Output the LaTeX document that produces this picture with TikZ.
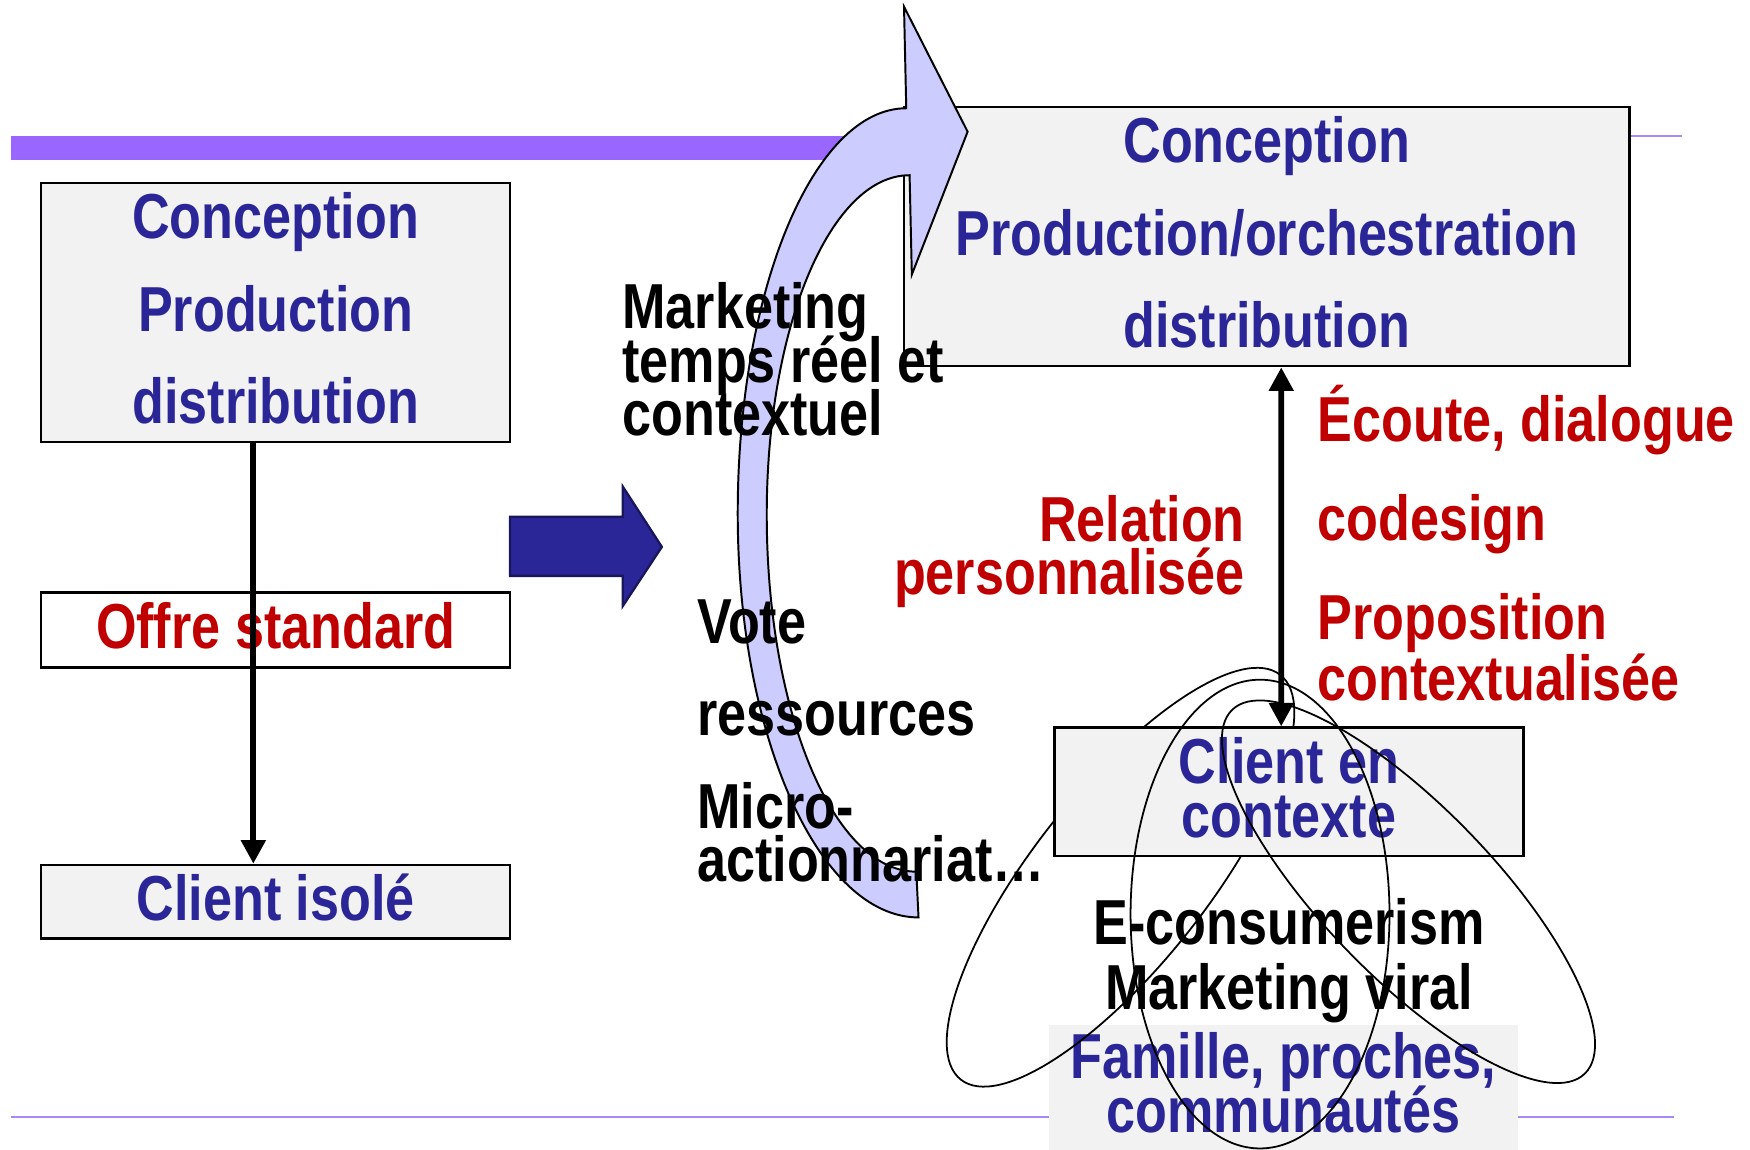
\documentclass[tikz,border=0pt]{standalone}
\usepackage{fontspec}
\setmainfont{Liberation Sans}[FakeStretch=0.82]
\usetikzlibrary{arrows.meta}
\definecolor{bleu}{RGB}{42,38,152}
\definecolor{rouge}{RGB}{192,0,0}
\definecolor{gris}{RGB}{242,242,242}
\definecolor{barre}{RGB}{153,102,255}
\definecolor{trait}{RGB}{170,135,250}
\definecolor{lavande}{RGB}{204,204,255}
\newcommand\lignes[1]{\bfseries\fontsize{16.2}{#1}\selectfont\lineskiplimit=-30pt}
\tikzstyle{cadre} = [draw,line width=0.6pt,fill=gris,inner sep=0pt,align=center,text=bleu,text depth=0.08cm,font=\lignes{23.6}]
\tikzstyle{mots} = [inner sep=0pt,font=\lignes{13.6}]
\tikzstyle{fleche} = [line width=1.5pt,-{Triangle[length=6pt,width=6pt]}]
\tikzstyle{fleches} = [line width=1.5pt,{Triangle[length=6pt,width=6pt]}-{Triangle[length=6pt,width=6pt]}]
\tikzstyle{boucle} = [line width=0.45pt]

\begin{document}
\begin{tikzpicture}[x=0.01cm,y=-0.01cm]
\useasboundingbox (0,0) rectangle (1568,1030);

\fill[barre] (10,122) rectangle (800,143);
\draw[trait,line width=0.6pt] (800,122) -- (1507,122);
\draw[trait,line width=0.5pt] (10,1001) -- (1500,1001);

\node[cadre,minimum width=4.2cm,minimum height=2.32cm] (cpd) at (247,280) {Conception\\Production\\distribution};
\node[cadre,fill=white,text=rouge,minimum width=4.2cm,minimum height=0.67cm] (offre) at (247,564.5) {Offre standard};
\node[cadre,minimum width=4.2cm,minimum height=0.66cm] (isole) at (247,808) {Client isolé};
\draw[fleche] ([xshift=-0.2cm]cpd.south) -- ([xshift=-0.2cm]isole.north);

\draw[fill=bleu,draw=bleu!60!black,line width=0.6pt] (457,463) -- (558,463) -- (558,436) -- (593,490)
  -- (558,543) -- (558,516) -- (457,516) -- cycle;

\node[cadre,minimum width=6.5cm,minimum height=2.32cm] (cpo) at (1135,212) {Conception\\Production/orchestration\\distribution};

\draw[fill=lavande,line width=0.5pt] (823,822) .. controls (734,822) and (661,660) .. (661,460)
  .. controls (661,260) and (729,97) .. (812,97) -- (810,6) -- (867,118) -- (817,246) -- (815,157)
  .. controls (744,157) and (687,293) .. (687,461)
  .. controls (687,638) and (747,781) .. (821,781) -- cycle;

\node[mots,anchor=west,align=left] (mkt) at (557,322) {Marketing\\temps réel et\\contextuel};
\node[mots,anchor=west,align=left] (vote) at (624,664) {Vote\\[0.35cm]ressources\\[0.35cm]Micro-\\actionnariat…};

\node[cadre,draw=none,minimum width=4.2cm,minimum height=1.12cm,font=\lignes{13.6}] (famille) at (1150,974) {Famille, proches,\\communautés};

\draw[boucle,rotate around={51.7:(1004,786)}] (1004,786) ellipse [x radius=231,y radius=78];
\node[cadre,minimum width=4.2cm,minimum height=1.15cm,font=\lignes{13.6}] (ctx) at (1155,709.5) {Client en\\contexte};
\draw[boucle] (1129,819) ellipse [x radius=116,y radius=210];
\draw[boucle,rotate around={-45.9:(1262,799)}] (1262,799) ellipse [x radius=227,y radius=76];
\node[mots,align=center,font=\lignes{16.5}] (econs) at (1155,861) {E-consumerism\\Marketing viral};

\draw[fleches] ([xshift=0.13cm]cpo.south) -- ([xshift=-0.07cm]ctx.north);

\node[mots,text=rouge,anchor=east,align=right] (relation) at (1116,494) {Relation\\personnalisée};
\node[mots,text=rouge,anchor=base west] (ecoute) at (1180,396) {Écoute, dialogue};
\node[mots,text=rouge,anchor=base west] (codesign) at (1180,484) {codesign};
\node[mots,text=rouge,anchor=west,align=left,font=\lignes{15.4}] (propo) at (1180,580) {Proposition\\contextualisée};

\end{tikzpicture}
\end{document}
